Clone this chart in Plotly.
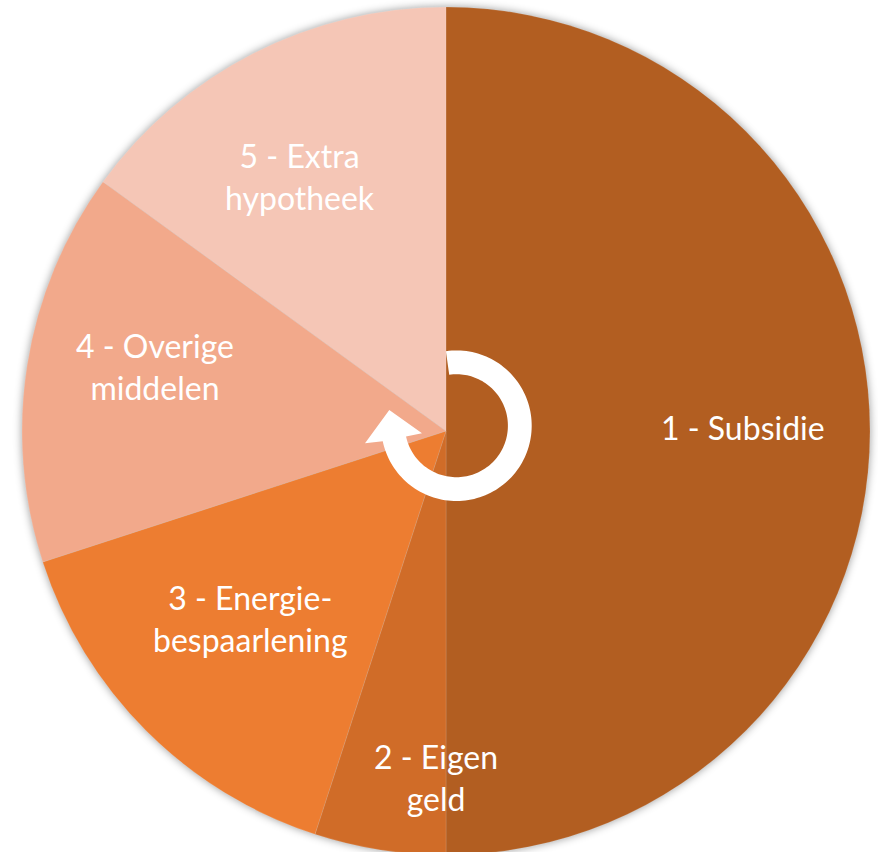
import numpy as np
import plotly.graph_objects as go

# Data
labels = ["1 - Subsidie", "2 - Eigen<br>geld", "3 - Energie-<br>bespaarlening", "4 - Overige<br>middelen", "5 - Extra<br>hypotheek"]
values = [50, 5, 15, 15, 15]
colors = ["#B25E21", "#D06C28", "#ED7D31", "#F2A98B", "#F5C6B6"]
label_px = [(743, 427), (436, 777), (250, 618), (155, 366), (300, 177)]

W, H = 878, 856
TOP, BOTTOM, LEFT, RIGHT = 7, 855, 22, 870


def px(x, y):
    return x / W, 1 - y / H


fig = go.Figure(
    go.Pie(
        labels=labels,
        values=values,
        sort=False,
        direction="clockwise",
        rotation=0,
        marker=dict(colors=colors, line=dict(color="rgba(255,255,255,0.12)", width=1)),
        textinfo="none",
        hoverinfo="label+percent",
        domain=dict(x=[LEFT / W, RIGHT / W], y=[1 - BOTTOM / H, 1 - TOP / H]),
    )
)

for text, (x, y) in zip(labels, label_px):
    ax, ay = px(x, y)
    fig.add_annotation(
        x=ax, y=ay, xref="paper", yref="paper", text=text, showarrow=False,
        align="center", xanchor="center", yanchor="middle",
        font=dict(family="Lato, Carlito, sans-serif", size=32, color="white"),
    )

# Circular arrow in the centre
cx, cy, ro, ri = 456.4, 425.7, 75.3, 51.5
a_start, a_end = np.radians(-8), np.radians(258)
t = np.linspace(a_start, a_end, 120)
outer = [(cx + ro * np.sin(a), cy - ro * np.cos(a)) for a in t]
inner = [(cx + ri * np.sin(a), cy - ri * np.cos(a)) for a in t[::-1]]
head = [(365, 443.3), (389.3, 410), (422, 433.3)]
pts = outer + head + inner
path = "M " + " L ".join("%.5f,%.5f" % px(*p) for p in pts) + " Z"
fig.add_shape(type="path", path=path, xref="paper", yref="paper",
              fillcolor="white", line=dict(width=0), layer="above")

fig.update_layout(
    width=W, height=H, margin=dict(l=0, r=0, t=0, b=0),
    showlegend=False, paper_bgcolor="white",
)

post = """
document.documentElement.style.overflow='hidden';
document.body.style.margin='0';
document.body.style.overflow='hidden';
document.querySelectorAll('.pielayer').forEach(function(e){
  e.style.filter='drop-shadow(0 0 4px rgba(0,0,0,0.4))';
});
"""
fig.write_html("out.html", post_script=post, config={"displayModeBar": False})
